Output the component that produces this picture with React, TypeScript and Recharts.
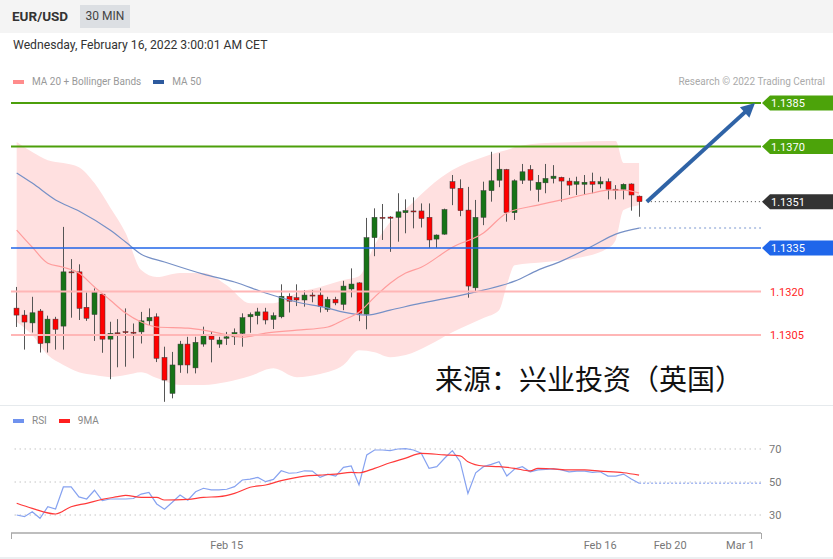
import React from "react";
import {
  ComposedChart,
  Area,
  Line,
  Bar,
  XAxis,
  YAxis,
  ReferenceLine,
} from "recharts";

// 30 min candles, index 0..80 (Feb 16 00:00 sits at index 75)
const opens = [
  1.13143, 1.13119, 1.13092, 1.13133, 1.13023, 1.13105, 1.13081, 1.13268, 1.13268, 1.13146,
  1.13121, 1.13191, 1.13036, 1.13058, 1.13062, 1.1306, 1.13061, 1.13099, 1.13113, 1.12973,
  1.12849, 1.12947, 1.13019, 1.12937, 1.13019, 1.13047, 1.13019, 1.13039, 1.13044, 1.13056,
  1.13113, 1.13117, 1.1313, 1.13104, 1.13113, 1.13184, 1.13179, 1.13171, 1.13188, 1.13188,
  1.13139, 1.13173, 1.13156, 1.13209, 1.1323, 1.13122, 1.13386, 1.13456, 1.13457, 1.13456,
  1.13472, 1.13478, 1.13478, 1.13456, 1.13381, 1.13398, 1.13579, 1.13556, 1.13481, 1.13213,
  1.13456, 1.13548, 1.13584, 1.13621, 1.13472, 1.13584, 1.13621, 1.13552, 1.13575, 1.1359,
  1.13594, 1.13581, 1.1357, 1.1357, 1.13579, 1.13571, 1.13579, 1.13553, 1.13552, 1.13571,
  1.13529,
];
const highs = [
  1.13216, 1.13136, 1.13182, 1.1314, 1.13117, 1.13113, 1.13423, 1.13312, 1.13294, 1.13197,
  1.13211, 1.13193, 1.13096, 1.13105, 1.13142, 1.1309, 1.1313, 1.13142, 1.13125, 1.1301,
  1.12992, 1.1303, 1.13044, 1.13044, 1.13079, 1.13064, 1.13044, 1.13061, 1.13073, 1.13125,
  1.13128, 1.13144, 1.13144, 1.13128, 1.13225, 1.13194, 1.13225, 1.13205, 1.13205, 1.13211,
  1.13182, 1.13182, 1.13237, 1.1328, 1.13232, 1.13454, 1.13487, 1.13502, 1.1346, 1.13539,
  1.13518, 1.13525, 1.13504, 1.13504, 1.13397, 1.13486, 1.13602, 1.13587, 1.13561, 1.13516,
  1.13579, 1.13682, 1.13677, 1.13623, 1.13587, 1.1364, 1.13636, 1.13602, 1.1364, 1.13636,
  1.13596, 1.13592, 1.13596, 1.13602, 1.1361, 1.13596, 1.1359, 1.13567, 1.13573, 1.13573,
  1.13531,
];
const lows = [
  1.13078, 1.13, 1.13059, 1.1299, 1.1299, 1.13, 1.13, 1.1311, 1.13102, 1.13099,
  1.1303, 1.12989, 1.12898, 1.12939, 1.12941, 1.1297, 1.13021, 1.13085, 1.12957, 1.1282,
  1.12832, 1.1292, 1.12918, 1.12918, 1.1301, 1.12956, 1.13006, 1.13016, 1.13016, 1.1301,
  1.13058, 1.13087, 1.13087, 1.13071, 1.13108, 1.13128, 1.1315, 1.13148, 1.13163, 1.13128,
  1.1313, 1.13153, 1.13136, 1.1318, 1.13098, 1.1307, 1.13322, 1.13378, 1.13337, 1.13372,
  1.13401, 1.13418, 1.13421, 1.13351, 1.13351, 1.13396, 1.13498, 1.1346, 1.13179, 1.13198,
  1.13429, 1.1351, 1.1356, 1.13441, 1.13447, 1.13571, 1.13548, 1.1351, 1.13539, 1.13573,
  1.1351, 1.13533, 1.13533, 1.13533, 1.13539, 1.13556, 1.13518, 1.13518, 1.13518, 1.13479,
  1.13458,
];
const closes = [
  1.13119, 1.13095, 1.13127, 1.13021, 1.13105, 1.1307, 1.13268, 1.13266, 1.13142, 1.13108,
  1.13197, 1.13036, 1.13056, 1.13057, 1.1306, 1.13058, 1.13099, 1.13111, 1.1297, 1.12895,
  1.12947, 1.13019, 1.12947, 1.13025, 1.1305, 1.13035, 1.13033, 1.13044, 1.13059, 1.1311,
  1.13121, 1.1313, 1.13102, 1.13117, 1.13184, 1.13167, 1.13171, 1.13188, 1.13186, 1.13148,
  1.13173, 1.13161, 1.13219, 1.13226, 1.13125, 1.13386, 1.13456, 1.13454, 1.13453, 1.13475,
  1.13479, 1.13476, 1.13452, 1.13378, 1.13395, 1.13483, 1.13556, 1.13479, 1.13219, 1.13456,
  1.13548, 1.13582, 1.13622, 1.13472, 1.13582, 1.13613, 1.13584, 1.13577, 1.1359, 1.13598,
  1.13581, 1.13567, 1.13579, 1.13577, 1.1357, 1.13579, 1.13552, 1.13551, 1.1357, 1.13533,
  1.1351,
];

// Bollinger band (MA 20), read at these candle indices
const bandIdx = [0, 2, 4, 6, 8, 10, 12, 14, 16, 18, 21, 24, 27, 30, 33, 36, 39, 42, 44, 46, 48, 50, 53, 56, 60, 62, 63, 64, 68, 72, 76, 77, 78, 80];
const bandHi = [
  1.13716, 1.13681, 1.13653, 1.13643, 1.13629, 1.13574, 1.13491, 1.13402, 1.13274, 1.1325,
  1.13264, 1.13264, 1.13222, 1.1316, 1.1316, 1.13195, 1.13216, 1.1324, 1.13253, 1.1336,
  1.1344, 1.13485, 1.1356, 1.13619, 1.13664, 1.13681, 1.13688, 1.13698, 1.13712, 1.13716,
  1.13719, 1.13719, 1.13643, 1.13643,
];
const bandLo = [
  1.13095, 1.1305, 1.12981, 1.12947, 1.12922, 1.12912, 1.12905, 1.12912, 1.12922, 1.12902,
  1.12878, 1.12878, 1.12888, 1.12909, 1.12936, 1.12905, 1.12916, 1.12947, 1.12998, 1.12991,
  1.12974, 1.12981, 1.13016, 1.1306, 1.13109, 1.13136, 1.13222, 1.13291, 1.13302, 1.13315,
  1.1335, 1.13378, 1.13481, 1.13498,
];

const ma20Idx = [0, 2, 4, 6, 8, 10, 12, 14, 16, 18, 22, 24, 26, 29, 32, 36, 40, 42, 44, 46, 48, 50, 52, 56, 60, 63, 67, 70, 74, 76, 78, 80];
const ma20Val = [
  1.13412, 1.13353, 1.13298, 1.13284, 1.13264, 1.13216, 1.13171, 1.13126, 1.13095, 1.13078,
  1.13074, 1.13067, 1.13057, 1.13043, 1.13057, 1.13067, 1.13078, 1.13102, 1.13129, 1.13181,
  1.13229, 1.13264, 1.13284, 1.13353, 1.13402, 1.13471, 1.13498, 1.13516, 1.1354, 1.1355,
  1.1355, 1.1354,
];

const ma50Idx = [0, 2, 5, 8, 12, 14, 16, 19, 24, 28, 32, 36, 40, 42, 45, 48, 52, 56, 60, 64, 67, 70, 74, 77, 80];
const ma50Val = [
  1.13609, 1.13574, 1.13516, 1.13478, 1.13412, 1.13371, 1.13329, 1.13302, 1.1326, 1.13233,
  1.13195, 1.13164, 1.13143, 1.13129, 1.13119, 1.13136, 1.1316, 1.13181, 1.13205, 1.13236,
  1.13274, 1.13305, 1.13357, 1.13398, 1.13419,
];

const rsiVals = [
  30, 29, 32, 28, 35, 33.6, 47, 47, 41, 39.7,
  45, 38.7, 39.7, 39.7, 39.7, 40, 42.7, 43.7, 36.7, 33.5,
  37.7, 42.1, 39, 44.1, 46.2, 45.2, 45.2, 45.6, 47.2, 51.2,
  51.8, 52.8, 50.2, 51.6, 56.8, 55.3, 55.6, 56.8, 56.6, 52.8,
  54.8, 53.6, 58.9, 59.7, 48.2, 66.4, 69.4, 69.4, 69, 70,
  70.2, 69.4, 67.4, 58.3, 59.3, 64.4, 69, 62.3, 43.1, 55.6,
  59.3, 60.7, 62.3, 53.6, 57.9, 59.3, 56.2, 57.3, 57.7, 57.9,
  57.3, 56.2, 56.6, 56.6, 55.8, 56.2, 53.6, 53.6, 54.8, 51.8,
  49.2,
];
const rsiMaIdx = [0, 2, 5, 7, 9, 11, 13, 14, 16, 18, 19, 22, 24, 26, 28, 30, 32, 34, 37, 39, 41, 43, 44, 46, 48, 50, 52, 55, 57, 58, 60, 62, 64, 66, 67, 69, 71, 73, 75, 78, 80];
const rsiMaVal = [
  37.1, 34, 30.6, 35, 37.1, 39.5, 41.1, 41.9, 40.7, 40.7,
  39.1, 39.5, 40.7, 41.1, 43.1, 46.8, 48.2, 50.8, 53.6, 54.2,
  54.8, 55.8, 55.6, 58.3, 61.7, 64.5, 67.4, 66.4, 65.8, 62.3,
  59.7, 59.3, 58.3, 56.7, 58.3, 57.9, 57.3, 57.3, 56.6, 55.6,
  54.2,
];

const dateTicks = [27, 75, 84, 93];
const dateLabels = ["Feb 15", "Feb 16", "Feb 20", "Mar 1"];

const greenLevels = [1.1385, 1.137];
const blueLevel = 1.1335;
const redLevels = [1.132, 1.1305];
const lastPrice = 1.1351;
const lastIdx = 80;
const target = 1.1385;

const X_DOMAIN: [number, number] = [-0.73, 95.67];
const Y_DOMAIN: [number, number] = [1.12809, 1.13895];
const FONT = "Roboto, 'Noto Sans', Arial, sans-serif";

const candles = opens.map((o, i) => ({ i, o, h: highs[i], l: lows[i], c: closes[i] }));
const bandRows = bandIdx.map((i, k) => ({ i, band: [bandLo[k], bandHi[k]] }));
const ma20Rows = ma20Idx.map((i, k) => ({ i, v: ma20Val[k] }));
const ma50Rows = ma50Idx.map((i, k) => ({ i, v: ma50Val[k] }));
const rsiRows = rsiVals.map((v, i) => ({ i, v }));
const rsiMaRows = rsiMaIdx.map((i, k) => ({ i, v: rsiMaVal[k] }));

function Candle(props: any) {
  const { x, y, width, height, payload } = props;
  if (!payload || height == null) return null;
  const { o, h, l, c } = payload;
  const k = h > l ? height / (h - l) : 0;
  const yOf = (v: number) => y + (h - v) * k;
  const cx = Math.round(x + width / 2) + 0.5;
  const top = yOf(Math.max(o, c));
  const bot = yOf(Math.min(o, c));
  const up = c >= o;
  return (
    <g>
      <line x1={cx} x2={cx} y1={y} y2={y + height} stroke="#555" strokeWidth={1} />
      <rect
        x={cx - 2.5}
        y={top}
        width={5}
        height={Math.max(bot - top, 1)}
        fill={up ? "#177317" : "#ff0000"}
        stroke="#3a3a3a"
        strokeWidth={0.5}
      />
    </g>
  );
}

function Tag({ x, y, text, bg }: { x: number; y: number; text: string; bg: string }) {
  return (
    <g>
      <polygon
        points={`${x},${y} ${x + 8},${y - 7.5} 833,${y - 7.5} 833,${y + 7.5} ${x + 8},${y + 7.5}`}
        fill={bg}
      />
      <text x={x + 9} y={y + 4} fill="#fff" fontSize={11} fontFamily={FONT}>
        {text}
      </text>
    </g>
  );
}

const levelShape = (color: string, w: number, text: string, tag: string | null) => (p: any) => (
  <g>
    <line x1={p.x1} x2={p.x2} y1={p.y1} y2={p.y2} stroke={color} strokeWidth={w} />
    {tag ? (
      <Tag x={p.x2 + 1} y={p.y1} text={text} bg={tag} />
    ) : (
      <text x={p.x2 + 9} y={p.y1 + 4} fill="#ff2424" fontSize={11} fontFamily={FONT}>
        {text}
      </text>
    )}
  </g>
);

const lastShape = (p: any) => (
  <g>
    <line x1={p.x1} x2={p.x2} y1={p.y1} y2={p.y2} stroke="#444" strokeWidth={1} strokeDasharray="1 3" />
    <Tag x={p.x2 + 1} y={p.y1} text={lastPrice.toFixed(4)} bg="#333333" />
  </g>
);

const arrowShape = (p: any) => {
  const dx = p.x2 - p.x1;
  const dy = p.y2 - p.y1;
  const len = Math.sqrt(dx * dx + dy * dy) || 1;
  const ux = dx / len;
  const uy = dy / len;
  const bx = p.x2 - ux * 14;
  const by = p.y2 - uy * 14;
  const nx = -uy * 7;
  const ny = ux * 7;
  return (
    <g>
      <line x1={p.x1} y1={p.y1} x2={bx + ux * 2} y2={by + uy * 2} stroke="#2f63a6" strokeWidth={4} />
      <polygon points={`${p.x2},${p.y2} ${bx + nx},${by + ny} ${bx - nx},${by - ny}`} fill="#2f63a6" />
    </g>
  );
};

const legendItem = (color: string, label: string) => (
  <span style={{ display: "inline-flex", alignItems: "center", marginRight: 12 }}>
    <span style={{ width: 11, height: 4, background: color, marginRight: 8, display: "inline-block" }} />
    <span>{label}</span>
  </span>
);

export default function App() {
  return (
    <div
      style={{
        position: "absolute",
        left: 0,
        top: 0,
        width: 833,
        height: 559,
        overflow: "hidden",
        background: "#fff",
        fontFamily: FONT,
      }}
    >
      {/* header */}
      <div style={{ position: "absolute", left: 0, top: 0, width: 833, height: 33, background: "#f4f4f4" }} />
      <div style={{ position: "absolute", left: 12, top: 8, fontSize: 13.5, fontWeight: 700, color: "#333" }}>
        EUR/USD
      </div>
      <div
        style={{
          position: "absolute",
          left: 80,
          top: 5,
          width: 50,
          height: 23,
          background: "#dcdfe3",
          color: "#444",
          fontSize: 12,
          lineHeight: "23px",
          textAlign: "center",
        }}
      >
        30 MIN
      </div>
      <div style={{ position: "absolute", left: 13, top: 38, fontSize: 12.2, color: "#333" }}>
        Wednesday, February 16, 2022 3:00:01 AM CET
      </div>
      <div
        style={{
          position: "absolute",
          left: 13,
          top: 76,
          fontSize: 10,
          color: "#999",
          display: "flex",
          whiteSpace: "nowrap",
        }}
      >
        {legendItem("#ff8c8c", "MA 20 + Bollinger Bands")}
        {legendItem("#2d5a9e", "MA 50")}
      </div>
      <div style={{ position: "absolute", right: 8, top: 76, fontSize: 10, color: "#aaa" }}>
        Research © 2022 Trading Central
      </div>

      {/* price panel */}
      <div style={{ position: "absolute", left: 0, top: 0 }}>
        <ComposedChart width={833} height={405} data={candles} margin={{ top: 90, right: 72, bottom: 0, left: 11 }}>
          <XAxis type="number" dataKey="i" domain={X_DOMAIN} allowDataOverflow hide />
          <YAxis type="number" domain={Y_DOMAIN} allowDataOverflow hide />
          <Area
            data={bandRows}
            dataKey="band"
            type="monotone"
            stroke="none"
            fill="#ffe0e0"
            fillOpacity={1}
            isAnimationActive={false}
          />
          <Line data={ma50Rows} dataKey="v" type="monotone" stroke="#7690c6" strokeWidth={1.2} dot={false} isAnimationActive={false} />
          <Line data={ma20Rows} dataKey="v" type="monotone" stroke="#ff9c9c" strokeWidth={1.2} dot={false} isAnimationActive={false} />
          {greenLevels.map((v) => (
            <ReferenceLine key={v} y={v} shape={levelShape("#4c9f0b", 2, v.toFixed(4), "#4ca30a")} />
          ))}
          <ReferenceLine y={blueLevel} shape={levelShape("#2166e8", 1.5, blueLevel.toFixed(4), "#1f66ea")} />
          {redLevels.map((v) => (
            <ReferenceLine key={v} y={v} shape={levelShape("#ffb6b6", 2, v.toFixed(4), null)} />
          ))}
          <ReferenceLine
            segment={[
              { x: lastIdx, y: ma50Val[ma50Val.length - 1] },
              { x: X_DOMAIN[1], y: ma50Val[ma50Val.length - 1] },
            ]}
            stroke="#a7badf"
            strokeWidth={1.5}
            strokeDasharray="2 3"
          />
          <ReferenceLine
            segment={[
              { x: lastIdx + 1, y: lastPrice },
              { x: X_DOMAIN[1], y: lastPrice },
            ]}
            shape={lastShape}
          />
          <Bar dataKey={(d: any) => [d.l, d.h]} barSize={5} shape={<Candle />} isAnimationActive={false} />
          <ReferenceLine
            segment={[
              { x: lastIdx + 1, y: lastPrice },
              { x: 94.9, y: target },
            ]}
            shape={arrowShape}
          />
        </ComposedChart>
      </div>

      <div
        style={{
          position: "absolute",
          left: 435,
          top: 364,
          fontSize: 28,
          lineHeight: "28px",
          color: "#111",
          fontFamily: "'Noto Sans CJK SC', sans-serif",
          whiteSpace: "nowrap",
        }}
      >
        来源：兴业投资（英国）
      </div>

      {/* separator */}
      <div style={{ position: "absolute", left: 0, top: 405, width: 833, height: 1, background: "#e6eaed" }} />

      {/* RSI panel */}
      <div
        style={{
          position: "absolute",
          left: 13,
          top: 415,
          fontSize: 10,
          color: "#888",
          display: "flex",
          whiteSpace: "nowrap",
        }}
      >
        {legendItem("#6f92ee", "RSI")}
        {legendItem("#ff1f1f", "9MA")}
      </div>
      <div style={{ position: "absolute", left: 0, top: 405 }}>
        <ComposedChart width={833} height={154} data={rsiRows} margin={{ top: 27, right: 0, bottom: 0, left: 11 }}>
          <XAxis
            type="number"
            dataKey="i"
            domain={X_DOMAIN}
            allowDataOverflow
            ticks={dateTicks}
            tickFormatter={(v: number) => dateLabels[dateTicks.indexOf(v)] ?? ""}
            tickLine={false}
            axisLine={{ stroke: "#a8a8a8", strokeWidth: 1.5 }}
            tick={{ fill: "#777", fontSize: 11, fontFamily: FONT }}
            height={26}
            interval={0}
          />
          <YAxis
            orientation="right"
            type="number"
            domain={[19.1, 80.3]}
            allowDataOverflow
            ticks={[30, 50, 70]}
            axisLine={false}
            tickLine={false}
            width={72}
            tick={{ fill: "#777", fontSize: 11, fontFamily: FONT, textAnchor: "start" }}
          />
          {[70, 50, 30].map((v) => (
            <ReferenceLine key={v} y={v} stroke="#c4c4c4" strokeDasharray="1.5 3.5" />
          ))}
          <ReferenceLine
            segment={[
              { x: lastIdx, y: rsiVals[rsiVals.length - 1] },
              { x: X_DOMAIN[1], y: rsiVals[rsiVals.length - 1] },
            ]}
            stroke="#a6b9f2"
            strokeWidth={1.5}
            strokeDasharray="2 2"
          />
          <Line dataKey="v" type="linear" stroke="#86a2f0" strokeWidth={1.2} dot={false} isAnimationActive={false} />
          <Line data={rsiMaRows} dataKey="v" type="monotone" stroke="#ff3a3a" strokeWidth={1.2} dot={false} isAnimationActive={false} />
        </ComposedChart>
      </div>
      <div style={{ position: "absolute", left: 11, top: 533, width: 1, height: 6, background: "#a8a8a8" }} />
      <div style={{ position: "absolute", left: 761, top: 533, width: 1, height: 6, background: "#a8a8a8" }} />
      <div style={{ position: "absolute", left: 0, top: 557, width: 833, height: 2, background: "#eceff1" }} />
    </div>
  );
}
